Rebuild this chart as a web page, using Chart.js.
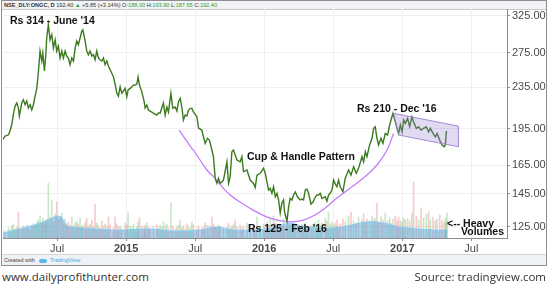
<!DOCTYPE html>
<html lang="en">
<head>
<meta charset="UTF-8">
<title>ONGC - Cup & Handle</title>
<script src="https://cdn.jsdelivr.net/npm/chart.js"></script>
<style>
  body{margin:0;background:#fff;font-family:"Liberation Sans",Arial,sans-serif;}
  .wrap{position:relative;width:550px;height:285px;overflow:hidden;}
  .frame{position:absolute;left:1px;top:0;width:546px;height:266px;border:1px solid #8e8e8e;box-sizing:border-box;}
  .head{position:absolute;left:0;top:0;width:100%;height:9px;background:#f1f3f6;border-bottom:1px solid #c9c9c9;box-sizing:border-box;}
  .head span{position:absolute;left:2px;top:1px;font-size:5.6px;line-height:6px;color:#333;white-space:nowrap;}
  .head b{font-weight:bold}
  .head .g{color:#2e9e3a}
  .made{position:absolute;left:0;bottom:0;width:100%;height:11px;background:#eef1f6;border-top:1px solid #d3d6db;box-sizing:border-box;}
  .made span{position:absolute;left:2px;top:2px;font-size:5.5px;line-height:6px;color:#444;white-space:nowrap;}
  .made .tv{color:#3fa9e0}
  .made i{display:inline-block;width:8px;height:4px;background:#5bb7e8;border-radius:3px;margin:0 3px 0 4px;vertical-align:middle}
  canvas{position:absolute;left:0;top:0;}
  .note{position:absolute;font-weight:bold;font-size:10.5px;line-height:11px;color:#111;white-space:nowrap;}
  .foot{position:absolute;top:269px;font-family:"Open Sans",sans-serif;font-size:11.5px;color:#333;white-space:nowrap;}
</style>
</head>
<body>
<div class="wrap">
  <div class="frame">
    <div class="head"><span><b>NSE_DLY:ONGC, D</b> 192.40 <span class="g" style="position:static">▲</span> +5.85 (+3.14%) O:<span class="g" style="position:static">188.00</span> H:<span class="g" style="position:static">193.90</span> L:<span class="g" style="position:static">187.65</span> C:<span class="g" style="position:static">192.40</span></span></div>
    <div class="made"><span>Created with<i></i><span class="tv" style="position:static">TradingView</span></span></div>
  </div>
  <canvas id="grafico" width="550" height="256"></canvas>
  <div class="note" style="left:10px;top:15px">Rs 314 - June '14</div>
  <div class="note" style="left:357px;top:103px">Rs 210 - Dec '16</div>
  <div class="note" style="left:247px;top:151px">Cup &amp; Handle Pattern</div>
  <div class="note" style="left:248px;top:223px">Rs 125 - Feb '16</div>
  <div class="note" style="left:447px;top:218px">&lt;-- Heavy</div>
  <div class="note" style="left:461px;top:226px">Volumes</div>
  <div class="foot" style="left:2px">www.dailyprofithunter.com</div>
  <div class="foot" style="right:4px">Source: tradingview.com</div>
</div>
<script>
    // x = months since Jan 2014
    const tickMonths = [6, 12, 18, 24, 30, 36, 42]
    const tickLabels = ['Jul', '2015', 'Jul', '2016', 'Jul', '2017', 'Jul']
    const priceTicks = [125, 145, 165, 195, 235, 275, 325]

    const months = [
        1.28,1.48,1.77,1.91,2.06,2.20,2.35,2.50,2.64,2.72,
        2.93,3.07,3.22,3.37,3.50,3.65,3.80,3.94,4.09,4.24,
        4.37,4.52,4.67,4.76,4.90,5.02,5.10,5.24,5.39,5.54,
        5.68,5.83,5.97,6.11,6.26,6.41,6.55,6.70,6.84,6.98,
        7.13,7.28,7.42,7.57,7.71,7.85,8.00,8.15,8.24,8.44,
        8.58,8.72,8.87,9.02,9.16,9.30,9.45,9.59,9.74,9.89,
        10.03,10.17,10.32,10.46,10.61,10.90,11.04,11.19,11.33,11.48,
        11.63,11.91,12.06,12.17,12.35,12.50,12.64,12.78,12.93,13.04,
        13.16,13.37,13.57,13.65,13.80,13.94,14.09,14.37,14.67,14.81,
        14.96,15.10,15.24,15.39,15.54,15.68,15.89,16.06,16.26,16.41,
        16.55,16.70,16.84,16.98,17.13,17.28,17.42,17.57,17.71,17.85,
        18.15,18.29,18.58,18.72,18.87,19.07,19.24,19.45,19.59,19.74,
        19.89,20.03,20.17,20.46,20.76,20.90,21.04,21.19,21.33,21.48,
        21.63,21.91,22.06,22.20,22.50,22.78,23.07,23.22,23.37,23.65,
        23.94,24.09,24.24,24.38,24.52,24.67,24.81,24.96,25.11,25.25,
        25.39,25.54,25.68,25.77,25.98,26.12,26.26,26.41,26.55,26.70,
        26.90,27.13,27.28,27.42,27.57,27.71,27.85,28.06,28.24,28.44,
        28.58,28.72,28.87,29.02,29.31,29.45,29.59,29.74,29.89,30.03,
        30.18,30.32,30.46,30.61,30.84,31.04,31.33,31.54,31.77,32.00,
        32.20,32.50,32.64,32.79,32.93,33.16,33.37,33.51,33.65,33.80,
        33.94,34.15,34.32,34.52,34.72,34.90,35.02,35.19,35.39,35.54,
        35.68,35.83,35.98,36.12,36.26,36.46,36.64,36.84,36.98,37.22,
        37.42,37.63,37.85,38.09,38.29,38.44,38.67,38.87,39.02,39.25,
        39.45,39.65,39.74,39.83,39.89
    ]

    const prices = [
        185.3,188.4,189.5,192.7,198.3,207.5,215.8,218.8,213.9,206.3,
        218.8,222.1,217.1,220.8,213.9,217.1,212.2,217.1,225.8,234.1,
        250.6,276.8,264.6,274.3,252.9,272.2,293.6,311.8,291.3,298.0,
        280.6,291.3,276.8,283.1,268.2,276.8,268.2,276.8,270.6,268.2,
        260.2,268.2,264.6,280.6,289.6,284.8,293.6,303.0,304.8,289.6,
        276.8,272.2,276.8,270.6,272.2,266.1,276.8,268.2,266.1,264.6,
        268.2,260.2,264.6,258.6,254.4,246.4,238.4,228.9,225.8,235.5,
        228.6,233.8,225.1,232.1,233.8,235.5,237.3,237.3,238.4,246.1,
        237.3,229.9,220.1,213.9,216.8,212.0,211.0,209.1,207.2,209.1,
        209.1,213.9,218.8,207.2,214.9,210.0,228.6,213.6,214.9,211.0,
        220.1,223.5,214.9,202.6,207.2,206.3,212.0,213.6,213.6,210.3,
        205.6,195.4,193.6,187.8,182.3,186.5,185.0,176.9,171.6,155.6,
        152.1,155.6,152.1,154.4,167.7,152.1,156.7,175.5,176.9,172.9,
        169.0,167.7,171.6,160.3,161.6,154.4,152.1,149.4,157.9,159.2,
        162.8,159.2,153.2,147.6,148.7,145.4,149.8,143.2,145.4,141.1,
        133.0,139.2,141.1,133.6,128.3,136.8,142.1,141.1,144.3,146.3,
        143.0,141.1,141.7,141.1,147.6,148.3,145.6,138.5,139.8,143.0,
        144.3,144.3,145.4,142.1,143.2,140.4,144.3,145.6,147.6,154.4,
        151.6,149.8,154.4,149.8,146.5,155.6,161.6,157.9,164.0,159.2,
        162.8,171.6,167.7,175.5,171.6,180.9,186.5,195.1,196.5,186.5,
        180.9,186.5,182.3,190.7,189.3,198.1,202.6,208.8,201.0,195.1,
        190.7,198.1,192.1,202.6,199.6,204.1,196.5,205.6,201.0,195.1,
        196.5,193.6,195.1,196.5,192.1,195.1,190.7,187.8,190.7,185.0,
        180.9,179.5,180.9,192.1,192.4
    ]

    // volume, lakh shares
    const volumes = [
        9,7,10,8,12,14,9,11,26,10,8,12,9,13,10,8,11,14,12,16,
        18,22,15,20,17,14,19,55,21,38,16,24,36,18,22,25,15,19,14,16,
        13,21,12,15,17,14,20,11,13,16,20,12,14,18,11,34,15,13,10,17,12,14,11,21,13,
        10,21,14,11,12,9,15,13,25,12,10,14,9,11,16,20,12,10,13,15,11,9,12,14,10,13,11,16,12,14,10,35,12,9,11,
        13,18,10,12,9,14,11,10,16,13,9,12,10,11,15,13,12,21,14,11,10,13,12,9,11,15,10,12,14,18,
        11,13,10,12,15,11,13,10,21,12,14,11,16,13,20,12,22,15,11,14,13,12,19,11,20,15,12,14,11,13,
        12,11,14,13,15,12,11,13,14,16,12,18,13,15,20,17,26,14,16,13,15,18,12,14,19,16,22,26,17,15,21,18,24,16,19,17,22,18,20,35,
        16,22,18,25,17,20,15,19,22,18,21,17,16,20,18,19,17,25,56,22,18,30,20,24,26,18,21,17,19,23,18,16,20,17,25
    ]

    const volMaMonths = [1.30,3.39,4.52,5.39,6.00,6.43,6.87,8.26,11.22,14.09,16.09,18.43,19.91,21.30,24.26,26.26,27.13,30.00,32.96,34.35,35.83,38.70,39.91]
    const volMa = [5,11,15,19,22,20,12,10,8,9,7,8,11,8,9,15,12,10,16,15,11,8,8]

    const cupMonths = [16.61,17.71,17.85,19.02,19.74,20.46,21.04,21.63,23.04,24.52,25.98,27.39,28.87,30.32,31.48,32.61,33.80,34.67,35.24]
    const cupPrices = [193.6,178.2,176.9,161.6,155.6,148.7,144.3,141.1,134.8,130.0,127.9,128.8,133.8,142.3,148.9,155.8,165.3,176.9,190.7]

    const channelMonths = [35.24, 40.88, 40.88, 35.68]
    const channelPrices = [208.8, 197.1, 179.5, 189.3]

    const corVolume = volumes.map((v, i) =>
        i > 0 && prices[i] < prices[i - 1] ? 'rgba(232,120,120,0.38)' : 'rgba(110,190,110,0.38)')

    const canal = {
        id: 'canal',
        afterDatasetsDraw(chart) {
            const { ctx, scales: { x, y } } = chart
            ctx.save()
            ctx.beginPath()
            channelMonths.forEach((m, i) => {
                const px = x.getPixelForValue(m), py = y.getPixelForValue(channelPrices[i])
                if (i == 0) ctx.moveTo(px, py)
                else ctx.lineTo(px, py)
            })
            ctx.closePath()
            ctx.fillStyle = 'rgba(150,120,210,0.28)'
            ctx.fill()
            ctx.strokeStyle = 'rgba(150,120,210,0.85)'
            ctx.lineWidth = 1
            ctx.stroke()
            ctx.restore()
        }
    }

    const fonte = '"Liberation Sans", Arial, sans-serif'

    new Chart(document.getElementById('grafico'), {
        type: 'line',
        data: {
            datasets: [{
                label: 'ONGC',
                data: months.map((m, i) => ({ x: m, y: prices[i] })),
                borderColor: '#3b7a1e',
                borderWidth: 1.4,
                pointRadius: 0,
                tension: 0,
                order: 0
            },
            {
                label: 'Cup',
                data: cupMonths.map((m, i) => ({ x: m, y: cupPrices[i] })),
                borderColor: '#c47cf6',
                borderWidth: 1.3,
                pointRadius: 0,
                tension: 0.4,
                order: 1
            },
            {
                label: 'Volume MA',
                data: volMaMonths.map((m, i) => ({ x: m, y: volMa[i] })),
                yAxisID: 'vol',
                borderColor: 'rgba(130,205,250,0.95)',
                backgroundColor: 'rgba(80,160,225,0.45)',
                borderWidth: 1,
                fill: 'origin',
                pointRadius: 0,
                tension: 0.4,
                order: 3
            },
            {
                type: 'bar',
                label: 'Volume',
                data: months.map((m, i) => ({ x: m, y: volumes[i] })),
                yAxisID: 'vol',
                backgroundColor: corVolume,
                barThickness: 1,
                grouped: false,
                order: 4
            }]
        },
        options: {
            responsive: false,
            animation: false,
            layout: { padding: { left: 3, top: 9, right: 2, bottom: 0 } },
            plugins: { legend: { display: false }, tooltip: { enabled: false } },
            scales: {
                x: {
                    type: 'linear',
                    min: 1.3,
                    max: 45.1,
                    offset: false,
                    afterBuildTicks: s => { s.ticks = tickMonths.map(v => ({ value: v })) },
                    afterFit: s => { s.height = 18 },
                    ticks: {
                        autoSkip: false,
                        maxRotation: 0,
                        padding: 1,
                        color: '#4a4a4a',
                        callback: v => tickLabels[tickMonths.indexOf(v)],
                        font: c => ({ family: fonte, size: 11, weight: /^\d/.test(tickLabels[c.index] || '') ? 'bold' : 'normal' })
                    },
                    grid: { offset: false, color: '#efefef', tickColor: '#8c8c8c', tickLength: 3 },
                    border: { color: '#8c8c8c' }
                },
                y: {
                    type: 'logarithmic',
                    position: 'right',
                    min: 118.8,
                    max: 334.8,
                    afterBuildTicks: s => { s.ticks = priceTicks.map(v => ({ value: v })) },
                    afterFit: s => { s.width = 41 },
                    ticks: {
                        padding: 2,
                        color: '#4a4a4a',
                        font: { family: fonte, size: 11 },
                        callback: v => Number(v).toFixed(2)
                    },
                    grid: { color: '#efefef', tickColor: '#8c8c8c', tickLength: 3 },
                    border: { color: '#8c8c8c' }
                },
                vol: {
                    display: false,
                    min: 0,
                    max: 229
                }
            }
        },
        plugins: [canal]
    })
</script>
</body>
</html>
